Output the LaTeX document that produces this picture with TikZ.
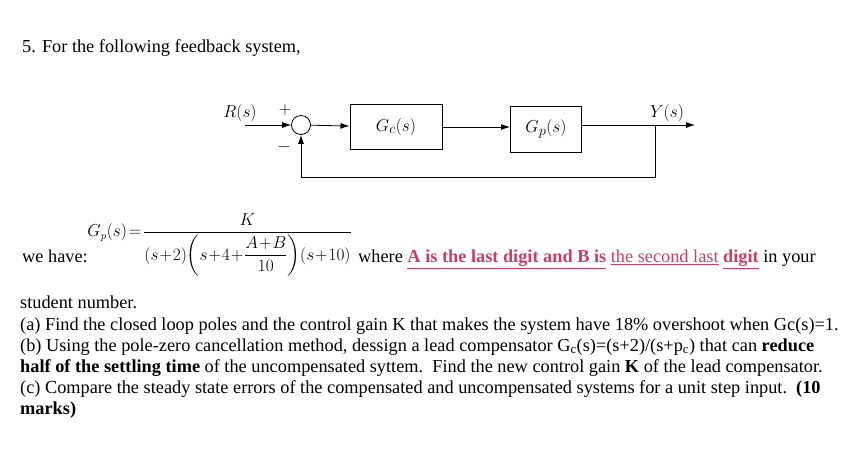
\documentclass[tikz,border=0pt]{standalone}
\usepackage{fontspec}
\setmainfont{Liberation Serif}
\usepackage{amsmath}
\usetikzlibrary{arrows.meta}
\definecolor{hl}{RGB}{205,60,100}
\newcommand{\hlu}[1]{\textcolor{hl}{\underline{#1}}}
\begin{document}
\begin{tikzpicture}[x=1pt,y=-1pt,
  blk/.style={draw,line width=1pt,minimum width=92pt,minimum height=45pt,font=\fontsize{19}{22}\selectfont},
  sig/.style={line width=0.8pt,-{Latex[length=9pt,width=6pt]}},
  txt/.style={anchor=base west,inner sep=0pt,font=\fontsize{18.3}{21}\selectfont}]
\useasboundingbox (0,0) rectangle (865,456);
\node[txt] (t0) at (22,52) {5. For the following feedback system,};
% block diagram
\node[draw,circle,line width=0.8pt,minimum size=19pt,inner sep=0pt] (sum) at (301,125) {};
\node[blk] (gc) at (396,127) {$G_c(s)$};
\node[blk,minimum width=71pt,minimum height=46pt] (gp) at (546,129) {$G_p(s)$};
\coordinate (rin) at (245,125);
\coordinate (yout) at (695,125);
\coordinate (br) at (655,125);
\coordinate (fb) at (655,177);
\node[font=\fontsize{19}{22}\selectfont] (rl) at (240,113) {$R(s)$};
\node[font=\fontsize{19}{22}\selectfont] (yl) at (667,113) {$Y(s)$};
\node[font=\fontsize{18}{20}\selectfont] (pl) at (285,110) {$+$};
\node[font=\fontsize{18}{20}\selectfont] (ml) at (284,147) {$-$};
\draw[sig] (rin) -- (sum);
\draw[sig] (sum) -- (gc);
\draw[sig] (gc) -- (gp.west |- gc);
\draw[sig] (gp.east |- br) -- (yout);
\draw[sig] (br) -- (fb) -- (sum |- fb) -- (sum);
% formula
\node[txt] (wh) at (22,262) {we have:};
\node[anchor=east,inner sep=0pt,font=\fontsize{16}{19}\selectfont] (eq) at (352,245)
 {$\medmuskip=1mu\thickmuskip=2mu G_p(s)={\dfrac{K}{(s+2)\!\left(s+4+\dfrac{A+B}{10}\right)\!(s+10)}}$};
\node[txt] (wr) at (358,262) {where \hlu{\textbf{A is the last digit and B is}} \hlu{the second last} \hlu{\textbf{digit}} in your};
\node[txt] (l1) at (20,308) {student number.};
\node[txt] (l2) at (20,330) {(a) Find the closed loop poles and the control gain K that makes the system have 18\% overshoot when Gc(s)=1.};
\node[txt] (l3) at (20,351) {(b) Using the pole-zero cancellation method, dessign a lead compensator G\textsubscript{c}(s)=(s+2)/(s+p\textsubscript{c}) that can \textbf{reduce}};
\node[txt] (l4) at (20,372) {\textbf{half of the settling time} of the uncompensated syttem.\ \ Find the new control gain \textbf{K} of the lead compensator.};
\node[txt] (l5) at (20,393) {(c) Compare the steady state errors of the compensated and uncompensated systems for a unit step input.\ \ \textbf{(10}};
\node[txt] (l6) at (20,414) {\textbf{marks)}};
\end{tikzpicture}
\end{document}
